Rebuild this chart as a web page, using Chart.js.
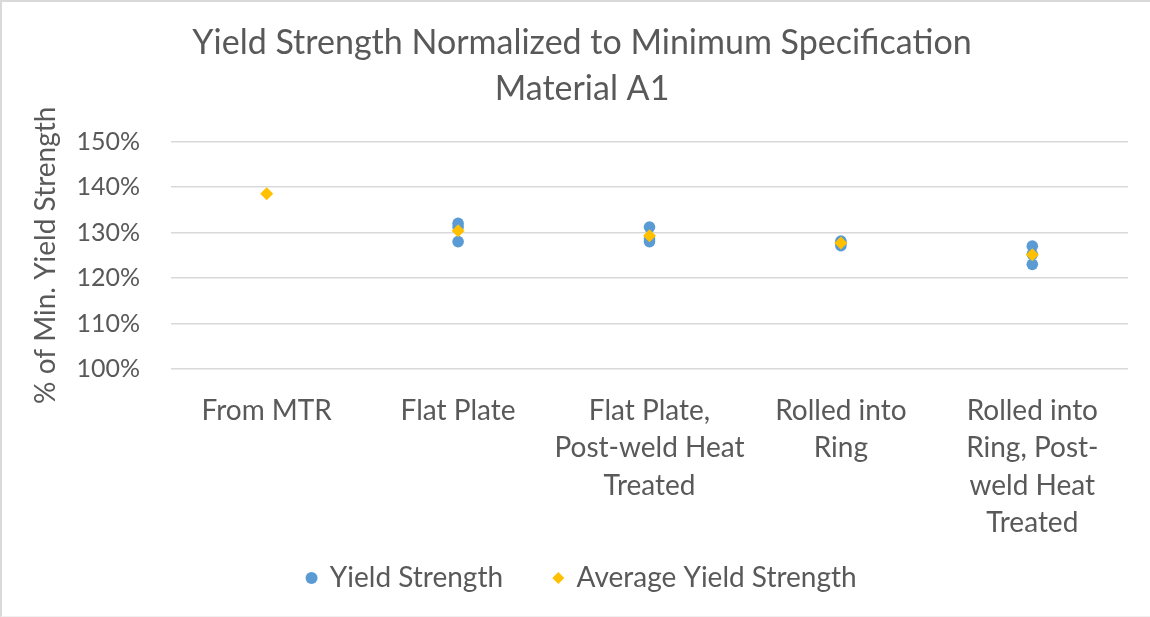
<!DOCTYPE html>
<html>
<head>
<meta charset="utf-8">
<script src="https://cdn.jsdelivr.net/npm/chart.js@4.4.1/dist/chart.umd.min.js"></script>
<style>
  html, body { margin: 0; padding: 0; background: #ffffff; }
  #wrap { position: relative; width: 1150px; height: 617px; }
  #frame {
    position: absolute; left: 0; top: 0; width: 1150px; height: 617px;
    box-sizing: border-box; pointer-events: none;
    border-top: 2px solid #d9d9d9; border-left: 2px solid #d9d9d9;
    border-bottom: 1px solid #f0f0f0;
  }
  canvas { display: block; }
</style>
</head>
<body>
<div id="wrap">
  <canvas id="chart" width="1150" height="617"></canvas>
  <div id="frame"></div>
</div>
<script>
// Test conditions along the category axis
const categories = [
  'From MTR',
  'Flat Plate',
  'Flat Plate, Post-weld Heat Treated',
  'Rolled into Ring',
  'Rolled into Ring, Post-weld Heat Treated'
];

// Wrapped tick text for each condition
const tickLines = [
  ['From MTR'],
  ['Flat Plate'],
  ['Flat Plate,', 'Post-weld Heat', 'Treated'],
  ['Rolled into', 'Ring'],
  ['Rolled into', 'Ring, Post-', 'weld Heat', 'Treated']
];

// Individual yield strength results, % of minimum specified yield
const flatPlate = [132.0, 131.2, 128.0];
const flatPlatePwht = [131.2, 128.6, 128.0];
const rolledRing = [128.1, 127.8, 127.1];
const rolledRingPwht = [127.0, 125.2, 123.0];

// Average per condition (MTR value only for the mill certificate)
const averageYield = [138.5, 130.4, 129.3, 127.7, 125.1];

// Y axis tick range
const yTicks = { min: 100, max: 150, step: 10 };

const textColor = '#595959';
const fontFamily = 'Lato, "Open Sans", sans-serif';

const individual = [
  [categories[1], flatPlate],
  [categories[2], flatPlatePwht],
  [categories[3], rolledRing],
  [categories[4], rolledRingPwht]
].flatMap(([cat, vals]) => vals.map(v => ({ x: cat, y: v })));

const averages = averageYield.map((v, i) => ({ x: categories[i], y: v }));

new Chart(document.getElementById('chart'), {
  type: 'line',
  data: {
    labels: categories,
    datasets: [
      {
        label: 'Yield Strength',
        data: individual,
        showLine: false,
        pointStyle: 'circle',
        pointRadius: 5.8,
        pointHoverRadius: 5.8,
        pointBackgroundColor: '#5B9BD5',
        pointBorderColor: '#5B9BD5',
        pointBorderWidth: 0,
        backgroundColor: '#5B9BD5',
        borderColor: '#5B9BD5',
        order: 1
      },
      {
        label: 'Average Yield Strength',
        data: averages,
        showLine: false,
        pointStyle: 'rectRot',
        pointRadius: 6.5,
        pointHoverRadius: 6.5,
        pointBackgroundColor: '#FFC000',
        pointBorderColor: '#FFC000',
        pointBorderWidth: 0,
        backgroundColor: '#FFC000',
        borderColor: '#FFC000',
        order: 0
      }
    ]
  },
  options: {
    responsive: false,
    animation: false,
    devicePixelRatio: 1,
    layout: { padding: { left: 36, right: 22, top: 0, bottom: 24 } },
    plugins: {
      tooltip: { enabled: false },
      title: {
        display: true,
        text: ['Yield Strength Normalized to Minimum Specification', 'Material A1'],
        color: textColor,
        font: { family: fontFamily, size: 34, weight: 'normal', lineHeight: 1.35 },
        padding: { top: 20, bottom: 29.7 }
      },
      legend: {
        position: 'bottom',
        maxHeight: 80,
        labels: {
          usePointStyle: true,
          boxHeight: 8.5,
          boxWidth: 8.5,
          color: textColor,
          font: { family: fontFamily, size: 28 },
          padding: 51,
          sort: (a, b) => a.datasetIndex - b.datasetIndex
        }
      }
    },
    scales: {
      x: {
        type: 'category',
        offset: true,
        grid: { display: false },
        border: { display: false },
        ticks: {
          autoSkip: false,
          maxRotation: 0,
          color: textColor,
          padding: 15,
          font: { family: fontFamily, size: 28, lineHeight: 1.34 },
          callback: (value, index) => tickLines[index]
        },
        afterFit: (scale) => {
          scale.height = 144;
          // let the wrapped category text run below the axis box
          scale._computeLabelArea = () => undefined;
        }
      },
      y: {
        min: yTicks.min,
        max: yTicks.max,
        grid: { color: '#d9d9d9', lineWidth: 1.4, drawTicks: false },
        border: { display: false },
        ticks: {
          stepSize: yTicks.step,
          color: textColor,
          padding: 31,
          font: { family: fontFamily, size: 25 },
          callback: (v) => v + '%'
        },
        title: {
          display: true,
          text: '% of Min. Yield Strength',
          color: textColor,
          font: { family: fontFamily, size: 28 },
          padding: { top: -7, bottom: 0 }
        },
        afterFit: (scale) => { scale.width = 135; }
      }
    }
  }
});
</script>
</body>
</html>
